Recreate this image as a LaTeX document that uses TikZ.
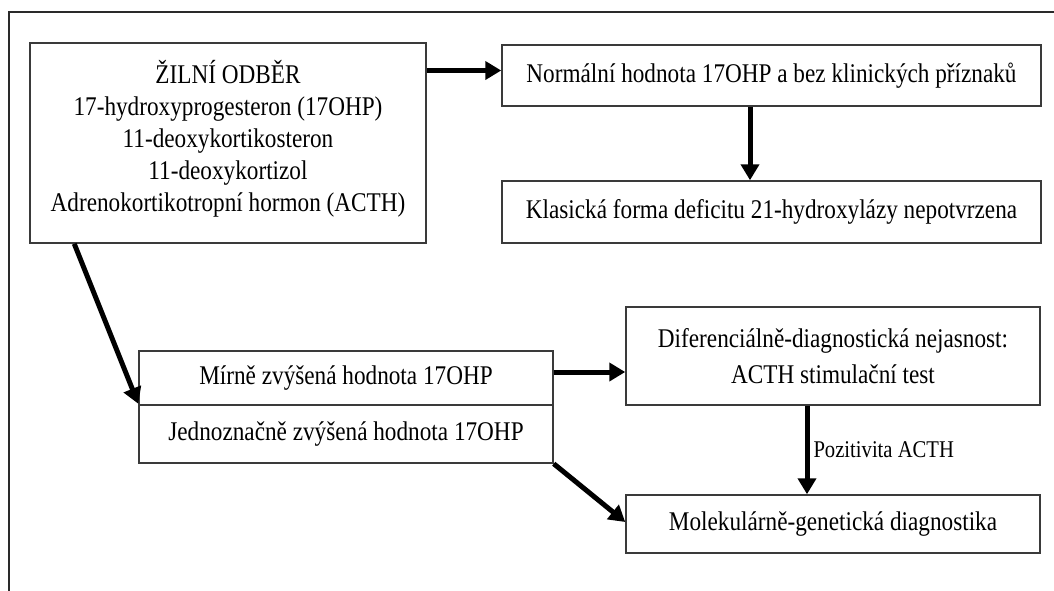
\documentclass[tikz,border=0pt]{standalone}
\usepackage{fontspec}
\setmainfont{Liberation Serif}[FakeStretch=0.86]
\usetikzlibrary{arrows.meta}
\definecolor{boxgray}{HTML}{3A3A3A}
\definecolor{framegray}{HTML}{2A2A2A}
\newcommand{\mainsz}{\fontsize{27pt}{32pt}\selectfont}
\newcommand{\labsz}{\fontsize{24pt}{28pt}\selectfont}
\begin{document}
\begin{tikzpicture}[x=1pt,y=-1pt,
  box/.style={draw=boxgray, line width=1.5pt, inner sep=0pt, align=center, font=\mainsz},
  txt/.style={inner sep=0pt, align=center, font=\mainsz},
  arr/.style={line width=5pt, -{Triangle[length=16pt,width=18pt]}},
  frameline/.style={draw=framegray, line width=2pt}]
\useasboundingbox (0,0) rectangle (1054,590);
% outer frame (cut off by the picture edges)
\coordinate (fTL) at (9,12);
\coordinate (fTR) at (1060,12);
\coordinate (fBL) at (9,596);
\draw[frameline] (fTR) -- (fTL) -- (fBL);
% boxes
\node[box, minimum width=396pt, minimum height=200pt] (A) at (228,143) {};
\node[txt] (Atxt) at (228,139) {ŽILNÍ ODBĚR\\17-hydroxyprogesteron (17OHP)\\11-deoxykortikosteron\\11-deoxykortizol\\Adrenokortikotropní hormon (ACTH)};
\node[box, minimum width=539pt, minimum height=61pt] (B) at (771.5,75.5) {Normální hodnota 17OHP a bez klinických příznaků};
\node[box, minimum width=539pt, minimum height=62pt] (C) at (771.5,212) {Klasická forma deficitu 21-hydroxylázy nepotvrzena};
\node[box, minimum width=414pt, minimum height=54pt] (D1) at (346,378) {Mírně zvýšená hodnota 17OHP};
\node[box, minimum width=414pt, minimum height=58pt] (D2) at (346,434) {Jednoznačně zvýšená hodnota 17OHP};
\node[box, minimum width=414pt, minimum height=98pt] (E) at (833,356) {Diferenciálně-diagnostická nejasnost:\\[4pt]ACTH stimulační test};
\node[box, minimum width=414pt, minimum height=58pt] (F) at (833,524) {Molekulárně-genetická diagnostika};
% connectors
\draw[arr] ([yshift=5pt]A.east |- B.west) -- ([yshift=5pt]B.west);
\draw[arr] ([xshift=-21.5pt]B.south) -- ([xshift=-21.5pt]C.north);
\draw[arr] ([xshift=45pt]A.south west) -- ([yshift=2pt]D1.south west);
\draw[arr] ([yshift=6pt]D1.east) -- ([yshift=6pt]D1.east -| E.west);
\draw[arr] ([xshift=-26pt]E.south) -- node[right=4pt, inner sep=0pt, font=\labsz] (lab) {Pozitivita ACTH} ([xshift=-26pt]F.north);
\draw[arr] (D2.south east) -- ([yshift=2pt]F.west);
\end{tikzpicture}
\end{document}
